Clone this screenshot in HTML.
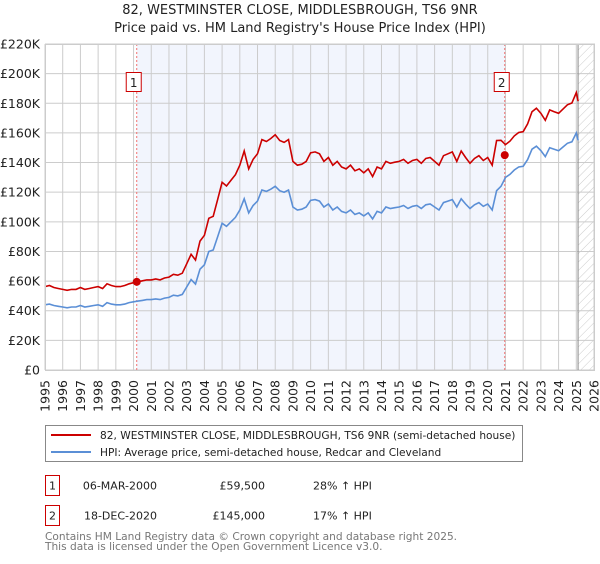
<!DOCTYPE html>
<html><head><meta charset="utf-8"><style>
body{margin:0;background:#fff;font-family:"DejaVu Sans","Liberation Sans",sans-serif;}
svg text{font-family:"DejaVu Sans","Liberation Sans",sans-serif;}
</style></head><body>
<svg id="chart" width="600" height="560" xmlns="http://www.w3.org/2000/svg">
<defs><pattern id="hatch" width="6" height="6" patternUnits="userSpaceOnUse" patternTransform="rotate(45)"><line x1="0" y1="0" x2="0" y2="6" stroke="#ccc" stroke-width="1"/></pattern></defs>
<text x="300" y="14" text-anchor="middle" font-size="13" fill="#222">82, WESTMINSTER CLOSE, MIDDLESBROUGH, TS6 9NR</text>
<text x="300" y="32" text-anchor="middle" font-size="13" fill="#222">Price paid vs. HM Land Registry's House Price Index (HPI)</text>
<g id="plot"></g>
<g>
<rect x="45.5" y="425.5" width="477" height="36" fill="#fff" stroke="#888"/>
<line x1="51" y1="435" x2="91" y2="435" stroke="#cc0000" stroke-width="2"/>
<text x="100" y="439" font-size="10.6" fill="#222">82, WESTMINSTER CLOSE, MIDDLESBROUGH, TS6 9NR (semi-detached house)</text>
<line x1="51" y1="452" x2="91" y2="452" stroke="#5b8fd6" stroke-width="2"/>
<text x="100" y="456" font-size="10.6" fill="#222">HPI: Average price, semi-detached house, Redcar and Cleveland</text>
</g>
<g font-size="11" fill="#222">
<rect x="45.5" y="475.5" width="14" height="20" fill="#fff" stroke="#cc0000"/><text x="52.5" y="489.5" text-anchor="middle">1</text>
<text x="157" y="489.5" text-anchor="end">06-MAR-2000</text><text x="265" y="489.5" text-anchor="end">£59,500</text><text x="313" y="489.5">28% ↑ HPI</text>
<rect x="45.5" y="505.5" width="14" height="20" fill="#fff" stroke="#cc0000"/><text x="52.5" y="519.5" text-anchor="middle">2</text>
<text x="157" y="519.5" text-anchor="end">18-DEC-2020</text><text x="265" y="519.5" text-anchor="end">£145,000</text><text x="313" y="519.5">17% ↑ HPI</text>
</g>
<text x="45" y="540" font-size="10.6" fill="#777">Contains HM Land Registry data © Crown copyright and database right 2025.</text>
<text x="45" y="550" font-size="10.6" fill="#777">This data is licensed under the Open Government Licence v3.0.</text>
</svg>
<script>
const hpiValues=[44.0,44.5,43.5,43.0,42.5,42.0,42.5,42.5,43.5,42.5,43.0,43.5,44.0,43.0,45.5,44.5,44.0,44.0,44.5,45.5,
46.0,46.5,47.0,47.5,47.5,48.0,47.5,48.5,49.0,50.5,50.0,51.0,56.0,61.0,58.0,68.0,71.0,80.0,81.0,90.0,
99.0,97.0,100.0,103.0,108.0,115.5,106.0,111.0,114.0,121.5,120.5,122.0,124.0,121.0,120.0,121.5,110.0,108.0,108.5,110.0,
114.5,115.0,114.0,110.0,112.0,108.0,110.0,107.0,106.0,108.0,105.0,106.0,104.0,106.0,102.0,107.0,106.0,110.0,109.0,109.5,
110.0,111.0,109.0,110.5,111.0,109.0,111.5,112.0,110.0,108.0,113.0,114.0,115.0,110.0,115.5,112.0,109.0,111.5,113.0,110.5,
112.0,108.0,121.0,124.0,130.0,132.0,135.0,137.0,137.5,142.0,149.0,151.0,148.0,144.0,150.0,149.0,148.0,150.5,153.0,154.0,160.0,155.0];
const priceValues=[56.3,57.0,55.7,55.0,54.4,53.8,54.4,54.4,55.7,54.4,55.0,55.7,56.3,55.0,58.2,57.0,56.3,56.3,57.0,58.2,
58.9,59.5,60.2,60.8,60.8,61.4,60.8,62.1,62.7,64.6,64.0,65.3,71.7,78.1,74.2,87.0,90.9,102.4,103.7,115.2,
126.7,124.2,128.0,131.8,138.2,147.8,135.7,142.1,145.9,155.5,154.2,156.2,158.7,154.9,153.6,155.5,140.8,138.2,138.9,140.8,
146.6,147.2,145.9,140.8,143.4,138.2,140.8,137.0,135.7,138.2,134.4,135.7,133.1,135.7,130.6,137.0,135.7,140.8,139.5,140.2,
140.8,142.1,139.5,141.4,142.1,139.5,142.7,143.4,140.8,138.2,144.6,145.9,147.2,140.8,147.8,143.4,139.5,142.7,144.6,141.4,
143.4,138.2,154.9,155.0,152.1,154.4,158.0,160.3,160.9,166.1,174.3,176.7,173.2,168.5,175.5,174.3,173.2,176.1,179.0,180.2,187.2,181.4];
const yTicks=[0,20,40,60,80,100,120,140,160,180,200,220];
const yearTicks=[1995,1996,1997,1998,1999,2000,2001,2002,2003,2004,2005,2006,2007,2008,2009,2010,2011,2012,2013,2014,2015,2016,2017,2018,2019,2020,2021,2022,2023,2024,2025,2026];
const saleDates=[2000.18,2020.96];
const salePrices=[59.5,145.0];
const saleLabels=["1","2"];
const dataEnd=2025.1;

const X0=45,X1=594,Y0=370,Y1=44;
const xs=t=>X0+(t-1995)/(2026-1995)*(X1-X0);
const ys=v=>Y0-v/220*(Y0-Y1);
const NS="http://www.w3.org/2000/svg";
const plot=document.getElementById('plot');
function mk(tag,attrs){const e=document.createElementNS(NS,tag);for(const k in attrs)e.setAttribute(k,attrs[k]);plot.appendChild(e);return e;}
const times=hpiValues.map((_,i)=>i<hpiValues.length-1?1995+i*0.25:dataEnd);

let r=mk('rect',{x:xs(saleDates[0]),y:Y1,width:xs(saleDates[1])-xs(saleDates[0]),height:Y0-Y1,fill:'#f2f5fd'});


r=mk('rect',{x:xs(dataEnd),y:Y1,width:X1+1-xs(dataEnd),height:Y0-Y1,fill:'url(#hatch)'});


yTicks.forEach(v=>{
 const l=mk('line',{x1:X0,x2:X1+1,y1:ys(v),y2:ys(v),stroke:'#ccc'});
 
 
 const t=mk('text',{x:40,y:ys(v)+4.5,'text-anchor':'end','font-size':12.5,fill:'#222'});
 t.textContent=v===0?'£0':'£'+v+'K';
 
 
});
yearTicks.forEach(y=>{
 const l=mk('line',{x1:xs(y),x2:xs(y),y1:Y1,y2:Y0,stroke:'#ccc'});
 
 
 const t=mk('text',{x:0,y:0,'text-anchor':'end','font-size':12.5,fill:'#222',transform:`translate(${xs(y)+4.5},380) rotate(-90)`});
 t.textContent=y;
 
 
});
let l=mk('line',{x1:xs(dataEnd),x2:xs(dataEnd),y1:Y1,y2:Y0,stroke:'#888','stroke-width':1});


saleDates.forEach((d,i)=>{
 const v=mk('line',{x1:xs(d),x2:xs(d),y1:Y1,y2:Y0,stroke:'#f07070','stroke-dasharray':'2,2'});
 
 
});
const pathOf=vals=>vals.map((v,i)=>(i?'L':'M')+xs(times[i]).toFixed(1)+','+ys(v).toFixed(1)).join('');
let p=mk('path',{d:pathOf(hpiValues),fill:'none',stroke:'#5b8fd6','stroke-width':1.6});


p=mk('path',{d:pathOf(priceValues),fill:'none',stroke:'#cc0000','stroke-width':1.6});


saleDates.forEach((d,i)=>{
 const c=mk('circle',{cx:xs(d),cy:ys(salePrices[i]),r:4,fill:'#cc0000'});
 
 
 const b=mk('rect',{x:xs(d)-10.5,y:72.5,width:15,height:19,fill:'#fff',stroke:'#cc0000'});
 
 
 const t=mk('text',{x:xs(d)-3,y:87,'text-anchor':'middle','font-size':12,fill:'#222'});
 t.textContent=saleLabels[i];
 
 
});
const f=mk('rect',{x:X0+0.5,y:Y1+0.5,width:X1-X0,height:Y0-Y1,fill:'none',stroke:'#ccc'});


</script>
</body></html>
